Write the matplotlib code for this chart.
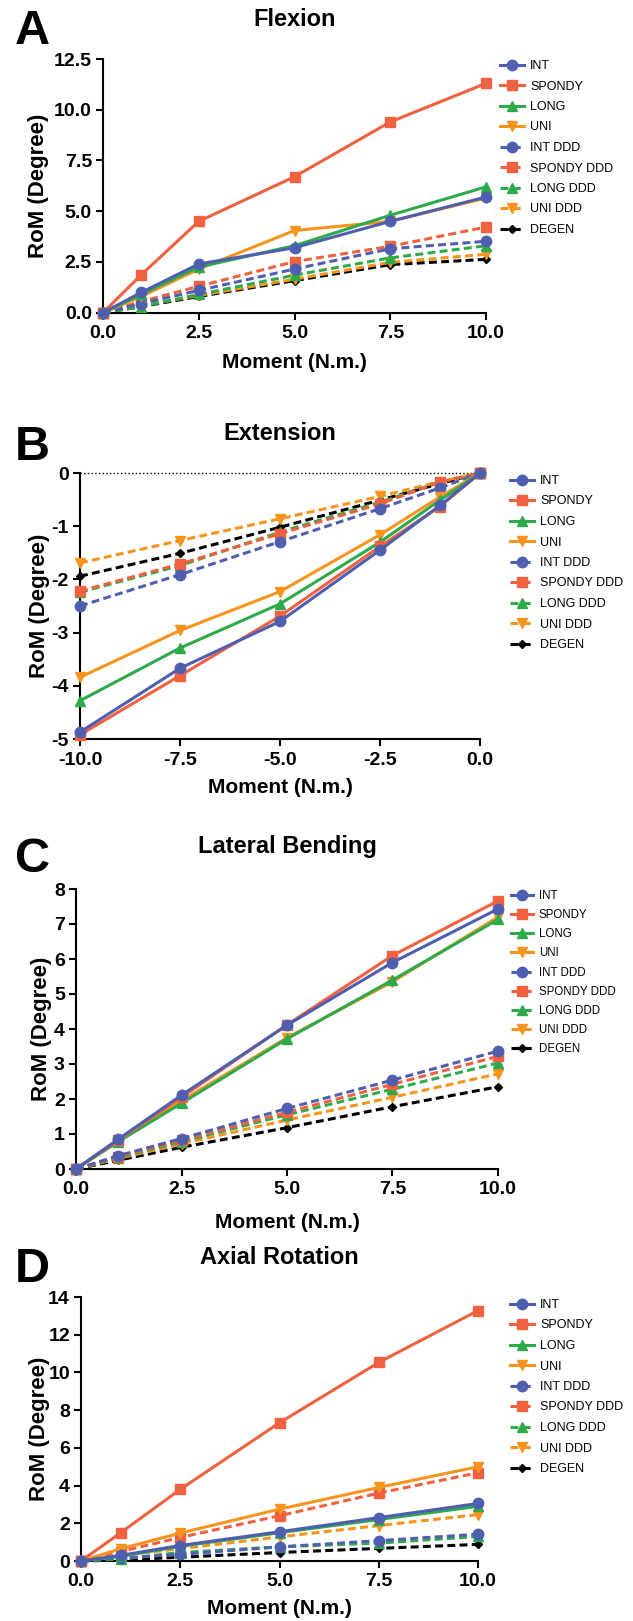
import matplotlib
matplotlib.use('Agg')
import matplotlib.pyplot as plt

W, H = 633, 1621

plt.rcParams['font.family'] = ['Liberation Sans', 'DejaVu Sans']
plt.rcParams['axes.unicode_minus'] = False

# серии (порядок легенды)
names = ['INT', 'SPONDY', 'LONG', 'UNI', 'INT DDD', 'SPONDY DDD', 'LONG DDD', 'UNI DDD', 'DEGEN']
colors = ['#4F5FB0', '#F0613F', '#2EAA4A', '#F7941E',
          '#4F5FB0', '#F0613F', '#2EAA4A', '#F7941E', '#000000']
markers = ['o', 's', '^', 'v', 'o', 's', '^', 'v', 'D']
dashed = [False, False, False, False, True, True, True, True, True]

moment_pos = [0, 1, 2.5, 5, 7.5, 10]
moment_neg = [-10, -7.5, -5, -2.5, -1, 0]

# RoM (градусы), строки в порядке names
flexion = [
    [0, 1.0, 2.4, 3.2, 4.5, 5.7],
    [0, 1.87, 4.5, 6.7, 9.4, 11.3],
    [0, 0.9, 2.25, 3.3, 4.8, 6.2],
    [0, 0.8, 2.15, 4.05, 4.5, 5.65],
    [0, 0.45, 1.1, 2.15, 3.15, 3.52],
    [0, 0.55, 1.3, 2.52, 3.27, 4.22],
    [0, 0.3, 0.9, 1.85, 2.7, 3.3],
    [0, 0.35, 0.85, 1.65, 2.48, 2.88],
    [0, 0.3, 0.8, 1.58, 2.37, 2.63],
]
extension = [
    [-4.87, -3.67, -2.79, -1.45, -0.61, 0],
    [-4.92, -3.81, -2.69, -1.38, -0.63, 0],
    [-4.28, -3.29, -2.46, -1.30, -0.51, 0],
    [-3.84, -2.96, -2.23, -1.16, -0.45, 0],
    [-2.50, -1.91, -1.29, -0.67, -0.28, 0],
    [-2.22, -1.71, -1.14, -0.58, -0.17, 0],
    [-2.24, -1.74, -1.11, -0.55, -0.17, 0],
    [-1.69, -1.27, -0.86, -0.44, -0.16, 0],
    [-1.94, -1.51, -1.02, -0.51, -0.20, 0],
]
lateral = [
    [0, 0.85, 2.11, 4.11, 5.9, 7.43],
    [0, 0.82, 2.05, 4.12, 6.1, 7.66],
    [0, 0.78, 1.88, 3.72, 5.4, 7.13],
    [0, 0.8, 1.95, 3.75, 5.35, 7.2],
    [0, 0.38, 0.87, 1.73, 2.54, 3.37],
    [0, 0.35, 0.82, 1.62, 2.42, 3.22],
    [0, 0.32, 0.78, 1.55, 2.28, 3.03],
    [0, 0.3, 0.72, 1.4, 2.05, 2.72],
    [0, 0.25, 0.62, 1.18, 1.78, 2.35],
]
axial = [
    [0, 0.3, 0.82, 1.55, 2.3, 3.05],
    [0, 1.5, 3.8, 7.33, 10.53, 13.28],
    [0, 0.25, 0.78, 1.5, 2.2, 2.9],
    [0, 0.65, 1.48, 2.75, 3.9, 5.0],
    [0, 0.15, 0.35, 0.75, 1.08, 1.42],
    [0, 0.5, 1.25, 2.4, 3.6, 4.68],
    [0, 0.1, 0.45, 0.75, 0.95, 1.3],
    [0, 0.3, 0.65, 1.28, 1.88, 2.46],
    [0, 0.05, 0.2, 0.45, 0.67, 0.88],
]

fig = plt.figure(figsize=(W / 100, H / 100), dpi=100)


def fx(px):
    return px / W


def fy(py):
    return 1 - py / H


def draw_panel(letter, title, xs, data, box, xlim, ylim, xticks, yticks, yfmt,
               title_y, letter_y, xlabel_y, ylabel_x, leg_x, leg_y, leg_fs, leg_sp,
               zero_line=False):
    l, t, r, b = box
    ax = fig.add_axes([fx(l), fy(b), (r - l) / W, (b - t) / H])

    for i, name in enumerate(names):
        ls = (0, (2.6, 1.4)) if dashed[i] else '-'
        ms = 4.5 if markers[i] == 'D' else (7.5 if markers[i] in 'o' else 7)
        ax.plot(xs, data[i], color=colors[i], linestyle=ls, linewidth=2.2,
                marker=markers[i], markersize=ms, markeredgecolor=colors[i],
                label=name, clip_on=False, zorder=10 - i)

    if zero_line:
        ax.axhline(0, color='black', linestyle=':', linewidth=1.0, clip_on=False, zorder=1)

    ax.set_xlim(*xlim)
    ax.set_ylim(*ylim)
    ax.set_xticks(xticks)
    ax.set_xticklabels([f'{v:.1f}' for v in xticks])
    ax.set_yticks(yticks)
    ax.set_yticklabels([yfmt.format(v) for v in yticks])
    for side in ('top', 'right'):
        ax.spines[side].set_visible(False)
    for side in ('left', 'bottom'):
        ax.spines[side].set_linewidth(1.5)
    ax.tick_params(axis='both', length=5, width=1.5, labelsize=14, pad=3)
    ax.tick_params(axis='x', pad=4)
    for lab in ax.get_xticklabels() + ax.get_yticklabels():
        lab.set_fontweight('bold')

    ax.set_xlabel('Moment (N.m.)', fontsize=15, fontweight='bold', va='center')
    ax.xaxis.set_label_coords(0.5, (b - xlabel_y) / (b - t))
    ax.set_ylabel('RoM (Degree)', fontsize=16, fontweight='bold', va='center')
    ax.yaxis.set_label_coords((ylabel_x - l) / (r - l), 0.5)

    fig.text(fx((l + r) / 2), fy(title_y), title, ha='center', va='center',
             fontsize=17, fontweight='bold')
    fig.text(fx(15), fy(letter_y), letter, ha='left', va='center',
             fontsize=35, fontweight='bold')

    ax.legend(loc='upper left', bbox_to_anchor=(fx(leg_x), fy(leg_y)),
              bbox_transform=fig.transFigure, frameon=False, fontsize=leg_fs,
              handlelength=1.9, handletextpad=0.5, labelspacing=leg_sp,
              borderpad=0, borderaxespad=0)
    return ax


draw_panel('A', 'Flexion', moment_pos, flexion, (103, 59, 486, 312.7),
           (0, 10), (0, 12.5), [0, 2.5, 5, 7.5, 10], [0, 2.5, 5, 7.5, 10, 12.5], '{:.1f}',
           19, 31, 363, 38, 500, 60, 9, 0.68)

draw_panel('B', 'Extension', moment_neg, extension, (80, 473, 480, 739),
           (-10, 0), (-5, 0), [-10, -7.5, -5, -2.5, 0], [0, -1, -2, -3, -4, -5], '{:d}',
           433, 447, 787, 39, 510, 475, 9, 0.68, zero_line=True)

draw_panel('C', 'Lateral Bending', moment_pos, lateral, (76, 889, 498, 1169),
           (0, 10), (0, 8), [0, 2.5, 5, 7.5, 10], list(range(0, 9)), '{:d}',
           847, 860, 1222, 41, 511, 890, 8.3, 0.62)

draw_panel('D', 'Axial Rotation', moment_pos, axial, (81, 1297, 478, 1561),
           (0, 10), (0, 14), [0, 2.5, 5, 7.5, 10], list(range(0, 15, 2)), '{:d}',
           1257, 1270, 1608, 39, 510, 1299, 9, 0.68)

fig.savefig('out.png', dpi=100)
